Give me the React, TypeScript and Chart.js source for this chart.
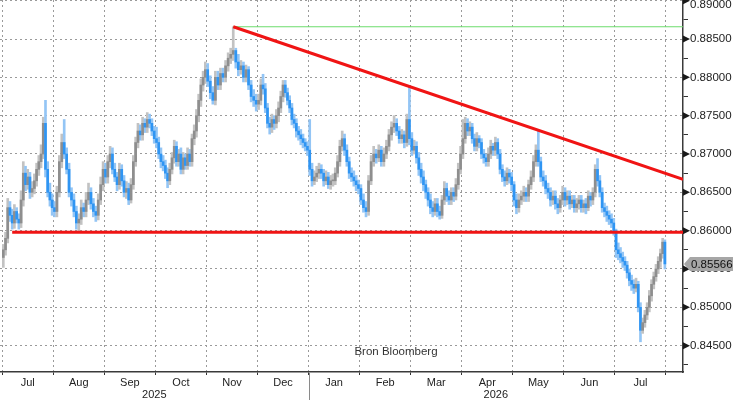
import React, { useEffect, useRef } from 'react';
import { Chart, registerables } from 'chart.js';

Chart.register(...registerables);

// ---------- labels ----------
const monthLabels = ['Jul', 'Aug', 'Sep', 'Oct', 'Nov', 'Dec', 'Jan', 'Feb', 'Mar', 'Apr', 'May', 'Jun', 'Jul'];
const yearLabels = ['2025', '2026'];
const yTickValues = [0.8425, 0.845, 0.8475, 0.85, 0.8525, 0.855, 0.8575, 0.86, 0.8625, 0.865, 0.8675, 0.87, 0.8725, 0.875, 0.8775, 0.88, 0.8825, 0.885, 0.8875, 0.89];
const sourceText = 'Bron Bloomberg';

// ---------- levels ----------
const firstOpen = 0.8565;
const supportLevel = 0.8598;
const trendEndLevel = 0.8667;
const lastPrice = 0.85566;
const supportStartBar = 4;

// ---------- daily closes / highs / lows per month ----------
const closeJul25 = [0.8575, 0.8590, 0.8630, 0.8620, 0.8610, 0.8625, 0.8615, 0.8610, 0.8640, 0.8675, 0.8660, 0.8670, 0.8650, 0.8655, 0.8665, 0.8680, 0.8690, 0.8700, 0.8740, 0.8680, 0.8650, 0.8640, 0.8630];
const highJul25 = [0.8582, 0.8598, 0.8642, 0.8638, 0.8628, 0.8634, 0.8630, 0.8622, 0.8652, 0.8690, 0.8684, 0.8680, 0.8676, 0.8664, 0.8674, 0.8688, 0.8698, 0.8712, 0.8748, 0.8770, 0.8690, 0.8662, 0.8648];
const lowJul25 = [0.8552, 0.8568, 0.8584, 0.8612, 0.8602, 0.8603, 0.8610, 0.8602, 0.8604, 0.8632, 0.8652, 0.8654, 0.8642, 0.8644, 0.8648, 0.8658, 0.8672, 0.8682, 0.8694, 0.8670, 0.8644, 0.8632, 0.8620];

const closeAug25 = [0.8625, 0.8650, 0.8690, 0.8715, 0.8700, 0.8680, 0.8650, 0.8640, 0.8625, 0.8610, 0.8615, 0.8630, 0.8625, 0.8640, 0.8650, 0.8635, 0.8625, 0.8620, 0.8640, 0.8660, 0.8680];
const highAug25 = [0.8638, 0.8658, 0.8698, 0.8726, 0.8745, 0.8708, 0.8688, 0.8656, 0.8648, 0.8632, 0.8622, 0.8640, 0.8636, 0.8650, 0.8662, 0.8656, 0.8642, 0.8632, 0.8648, 0.8670, 0.8690];
const lowAug25 = [0.8618, 0.8618, 0.8644, 0.8682, 0.8694, 0.8674, 0.8644, 0.8632, 0.8618, 0.8602, 0.8600, 0.8608, 0.8618, 0.8618, 0.8634, 0.8628, 0.8618, 0.8612, 0.8614, 0.8634, 0.8652];

const closeSep25 = [0.8670, 0.8690, 0.8700, 0.8680, 0.8670, 0.8660, 0.8680, 0.8665, 0.8650, 0.8655, 0.8640, 0.8660, 0.8690, 0.8715, 0.8730, 0.8725, 0.8740, 0.8735, 0.8745, 0.8740, 0.8730, 0.8720];
const highSep25 = [0.8688, 0.8698, 0.8710, 0.8708, 0.8688, 0.8676, 0.8688, 0.8686, 0.8672, 0.8664, 0.8662, 0.8668, 0.8698, 0.8722, 0.8740, 0.8738, 0.8748, 0.8746, 0.8754, 0.8752, 0.8746, 0.8736];
const lowSep25 = [0.8662, 0.8662, 0.8682, 0.8674, 0.8664, 0.8652, 0.8654, 0.8658, 0.8644, 0.8642, 0.8634, 0.8636, 0.8654, 0.8684, 0.8708, 0.8718, 0.8718, 0.8728, 0.8728, 0.8734, 0.8724, 0.8714];

const closeOct25 = [0.8715, 0.8700, 0.8690, 0.8685, 0.8675, 0.8665, 0.8680, 0.8695, 0.8710, 0.8690, 0.8700, 0.8680, 0.8695, 0.8685, 0.8700, 0.8690, 0.8720, 0.8730, 0.8750, 0.8770, 0.8790, 0.8800, 0.8810];
const highOct25 = [0.8735, 0.8722, 0.8708, 0.8698, 0.8692, 0.8682, 0.8688, 0.8702, 0.8718, 0.8716, 0.8706, 0.8708, 0.8702, 0.8700, 0.8708, 0.8706, 0.8726, 0.8738, 0.8758, 0.8778, 0.8798, 0.8808, 0.8820];
const lowOct25 = [0.8708, 0.8694, 0.8682, 0.8678, 0.8668, 0.8656, 0.8660, 0.8674, 0.8688, 0.8684, 0.8684, 0.8674, 0.8674, 0.8680, 0.8680, 0.8684, 0.8684, 0.8712, 0.8722, 0.8742, 0.8762, 0.8782, 0.8792];

const closeNov25 = [0.8795, 0.8780, 0.8770, 0.8800, 0.8790, 0.8805, 0.8800, 0.8815, 0.8825, 0.8830, 0.8835, 0.8820, 0.8810, 0.8815, 0.8800, 0.8810, 0.8790, 0.8775, 0.8770, 0.8765];
const highNov25 = [0.8818, 0.8802, 0.8788, 0.8808, 0.8808, 0.8812, 0.8812, 0.8822, 0.8832, 0.8838, 0.8866, 0.8838, 0.8830, 0.8822, 0.8820, 0.8816, 0.8814, 0.8796, 0.8784, 0.8778];
const lowNov25 = [0.8788, 0.8772, 0.8765, 0.8764, 0.8784, 0.8784, 0.8794, 0.8794, 0.8808, 0.8818, 0.8822, 0.8812, 0.8802, 0.8804, 0.8794, 0.8794, 0.8784, 0.8768, 0.8762, 0.8756];

const closeDec25 = [0.8770, 0.8790, 0.8785, 0.8760, 0.8740, 0.8735, 0.8745, 0.8740, 0.8750, 0.8760, 0.8775, 0.8790, 0.8780, 0.8770, 0.8760, 0.8745, 0.8740, 0.8730, 0.8725, 0.8720, 0.8715, 0.8710, 0.8705];
const highDec25 = [0.8778, 0.8798, 0.8804, 0.8792, 0.8766, 0.8748, 0.8752, 0.8750, 0.8758, 0.8768, 0.8782, 0.8796, 0.8796, 0.8786, 0.8776, 0.8766, 0.8752, 0.8746, 0.8736, 0.8732, 0.8726, 0.8720, 0.8716];
const lowDec25 = [0.8758, 0.8764, 0.8778, 0.8754, 0.8734, 0.8726, 0.8728, 0.8732, 0.8734, 0.8742, 0.8754, 0.8768, 0.8774, 0.8764, 0.8754, 0.8738, 0.8734, 0.8722, 0.8718, 0.8712, 0.8708, 0.8704, 0.8698];

const closeJan26 = [0.8680, 0.8665, 0.8670, 0.8675, 0.8680, 0.8675, 0.8665, 0.8670, 0.8660, 0.8665, 0.8665, 0.8675, 0.8690, 0.8710, 0.8720, 0.8705, 0.8690, 0.8675, 0.8670, 0.8665, 0.8660, 0.8655];
const highJan26 = [0.8745, 0.8688, 0.8678, 0.8684, 0.8688, 0.8686, 0.8680, 0.8678, 0.8676, 0.8672, 0.8674, 0.8682, 0.8698, 0.8718, 0.8730, 0.8726, 0.8712, 0.8696, 0.8682, 0.8678, 0.8672, 0.8666];
const lowJan26 = [0.8672, 0.8658, 0.8660, 0.8664, 0.8668, 0.8668, 0.8658, 0.8660, 0.8655, 0.8654, 0.8658, 0.8660, 0.8670, 0.8684, 0.8704, 0.8698, 0.8684, 0.8668, 0.8664, 0.8658, 0.8652, 0.8648];

const closeFeb26 = [0.8640, 0.8630, 0.8625, 0.8665, 0.8690, 0.8700, 0.8695, 0.8705, 0.8690, 0.8700, 0.8710, 0.8725, 0.8735, 0.8740, 0.8730, 0.8720, 0.8725, 0.8715, 0.8745, 0.8720];
const highFeb26 = [0.8660, 0.8648, 0.8638, 0.8672, 0.8698, 0.8710, 0.8706, 0.8712, 0.8710, 0.8708, 0.8718, 0.8732, 0.8742, 0.8750, 0.8746, 0.8736, 0.8732, 0.8730, 0.8752, 0.8788];
const lowFeb26 = [0.8634, 0.8624, 0.8618, 0.8620, 0.8660, 0.8684, 0.8688, 0.8690, 0.8684, 0.8684, 0.8694, 0.8704, 0.8718, 0.8728, 0.8724, 0.8714, 0.8714, 0.8708, 0.8710, 0.8712];

const closeMar26 = [0.8705, 0.8710, 0.8695, 0.8680, 0.8670, 0.8660, 0.8650, 0.8640, 0.8630, 0.8625, 0.8635, 0.8625, 0.8620, 0.8640, 0.8655, 0.8645, 0.8640, 0.8650, 0.8645, 0.8660, 0.8680, 0.8700];
const highMar26 = [0.8728, 0.8718, 0.8716, 0.8702, 0.8688, 0.8678, 0.8666, 0.8656, 0.8648, 0.8638, 0.8642, 0.8642, 0.8632, 0.8646, 0.8664, 0.8662, 0.8652, 0.8656, 0.8656, 0.8668, 0.8688, 0.8710];
const lowMar26 = [0.8698, 0.8700, 0.8688, 0.8672, 0.8662, 0.8652, 0.8642, 0.8632, 0.8622, 0.8618, 0.8620, 0.8618, 0.8615, 0.8616, 0.8634, 0.8638, 0.8634, 0.8634, 0.8638, 0.8640, 0.8654, 0.8674];

const closeApr26 = [0.8720, 0.8740, 0.8730, 0.8735, 0.8720, 0.8710, 0.8720, 0.8715, 0.8700, 0.8695, 0.8690, 0.8700, 0.8710, 0.8705, 0.8715, 0.8700, 0.8680, 0.8670, 0.8665, 0.8675, 0.8670, 0.8660];
const highApr26 = [0.8745, 0.8748, 0.8746, 0.8742, 0.8740, 0.8726, 0.8728, 0.8724, 0.8720, 0.8706, 0.8700, 0.8708, 0.8718, 0.8714, 0.8722, 0.8720, 0.8706, 0.8686, 0.8678, 0.8682, 0.8680, 0.8676];
const lowApr26 = [0.8694, 0.8714, 0.8724, 0.8724, 0.8714, 0.8704, 0.8704, 0.8708, 0.8694, 0.8688, 0.8684, 0.8684, 0.8694, 0.8698, 0.8698, 0.8694, 0.8674, 0.8664, 0.8658, 0.8660, 0.8662, 0.8652];

const closeMay26 = [0.8640, 0.8630, 0.8640, 0.8645, 0.8650, 0.8645, 0.8660, 0.8670, 0.8690, 0.8705, 0.8690, 0.8670, 0.8665, 0.8655, 0.8650, 0.8640, 0.8645, 0.8635, 0.8630, 0.8640, 0.8650];
const highMay26 = [0.8664, 0.8648, 0.8648, 0.8652, 0.8658, 0.8656, 0.8666, 0.8678, 0.8698, 0.8712, 0.8730, 0.8696, 0.8678, 0.8672, 0.8662, 0.8656, 0.8652, 0.8652, 0.8642, 0.8646, 0.8658];
const lowMay26 = [0.8632, 0.8622, 0.8624, 0.8634, 0.8638, 0.8638, 0.8638, 0.8654, 0.8664, 0.8684, 0.8684, 0.8664, 0.8658, 0.8648, 0.8642, 0.8632, 0.8634, 0.8628, 0.8622, 0.8624, 0.8634];

const closeJun26 = [0.8640, 0.8645, 0.8635, 0.8640, 0.8630, 0.8635, 0.8640, 0.8630, 0.8635, 0.8630, 0.8645, 0.8640, 0.8650, 0.8680, 0.8665, 0.8650, 0.8630, 0.8625, 0.8620, 0.8615, 0.8610, 0.8600];
const highJun26 = [0.8656, 0.8652, 0.8652, 0.8646, 0.8646, 0.8642, 0.8646, 0.8646, 0.8640, 0.8642, 0.8652, 0.8650, 0.8656, 0.8686, 0.8694, 0.8672, 0.8656, 0.8636, 0.8632, 0.8626, 0.8622, 0.8616];
const lowJun26 = [0.8632, 0.8634, 0.8628, 0.8630, 0.8624, 0.8624, 0.8628, 0.8624, 0.8624, 0.8622, 0.8626, 0.8632, 0.8634, 0.8644, 0.8658, 0.8644, 0.8624, 0.8618, 0.8612, 0.8608, 0.8604, 0.8594];

const closeJul26 = [0.8575, 0.8570, 0.8565, 0.8560, 0.8555, 0.8545, 0.8535, 0.8530, 0.8525, 0.8530, 0.8500, 0.8470, 0.8480, 0.8490, 0.8500, 0.8515, 0.8530, 0.8540, 0.8550, 0.8560, 0.8570, 0.8585, 0.85566];
const highJul26 = [0.8602, 0.8584, 0.8578, 0.8572, 0.8566, 0.8560, 0.8550, 0.8542, 0.8536, 0.8538, 0.8534, 0.8506, 0.8486, 0.8496, 0.8506, 0.8522, 0.8536, 0.8546, 0.8556, 0.8566, 0.8576, 0.8590, 0.8588];
const lowJul26 = [0.8565, 0.8562, 0.8558, 0.8552, 0.8548, 0.8538, 0.8528, 0.8522, 0.8518, 0.8520, 0.8494, 0.8455, 0.8466, 0.8474, 0.8484, 0.8494, 0.8508, 0.8524, 0.8534, 0.8544, 0.8552, 0.8564, 0.8550];

const monthCloses = [closeJul25, closeAug25, closeSep25, closeOct25, closeNov25, closeDec25, closeJan26, closeFeb26, closeMar26, closeApr26, closeMay26, closeJun26, closeJul26];
const monthHighs = [highJul25, highAug25, highSep25, highOct25, highNov25, highDec25, highJan26, highFeb26, highMar26, highApr26, highMay26, highJun26, highJul26];
const monthLows = [lowJul25, lowAug25, lowSep25, lowOct25, lowNov25, lowDec25, lowJan26, lowFeb26, lowMar26, lowApr26, lowMay26, lowJun26, lowJul26];

// ---------- styling ----------
const FONT = "'Liberation Sans', Arial, sans-serif";
// this chart shows falling days in blue and rising days in grey
const DOWN_BODY = '#2f95f3';
const DOWN_WICK = '#93c5f5';
const UP_BODY = '#8e8e8e';
const UP_WICK = '#c2c2c2';
const RED = '#f01414';
const GREEN = '#6cdc6c';
const GRID = '#9a9a9a';
const X_MIN = -0.043;
const X_MAX = 13.333;
const Y_MIN = 0.84156;
const Y_MAX = 0.89009;

const isMajor = (v: number) => Math.round(v * 10000) % 50 === 0;
const isBoundary = (v: number) => Math.abs(v - Math.round(v)) < 0.01;

export default function App() {
  const ref = useRef<HTMLCanvasElement | null>(null);

  useEffect(() => {
    document.body.style.margin = '0';
    if (!ref.current) return;

    type Bar = { x: number; o: number; h: number; l: number; c: number };
    const bars: Bar[] = [];
    let prev = firstOpen;
    monthCloses.forEach((cl, m) => {
      const n = cl.length;
      cl.forEach((c, i) => {
        const o = prev;
        const hi = monthHighs[m][i] ?? Math.max(o, c);
        const lo = monthLows[m][i] ?? Math.min(o, c);
        bars.push({ x: m + (i + 0.5) / n, o, c, h: Math.max(hi, o, c), l: Math.min(lo, o, c) });
        prev = c;
      });
    });

    let peak = bars[0];
    bars.forEach((b) => { if (b.h > peak.h) peak = b; });

    const monthTicks: number[] = [];
    for (let m = 0; m <= monthLabels.length; m++) monthTicks.push(m);
    for (let m = 0; m < monthLabels.length; m++) monthTicks.push(m + 0.5);
    monthTicks.sort((a, b) => a - b);

    const overlay = {
      id: 'overlay',
      afterDraw(chart: any) {
        const { ctx, chartArea } = chart;
        const xs = chart.scales.x;
        const ys = chart.scales.y;
        const r = chartArea.right;
        ctx.save();
        // arrow markers at major y ticks
        ctx.fillStyle = '#1a1a1a';
        yTickValues.filter(isMajor).forEach((v) => {
          const y = ys.getPixelForValue(v);
          ctx.beginPath();
          ctx.moveTo(r, y - 3.5);
          ctx.lineTo(r + 7, y);
          ctx.lineTo(r, y + 3.5);
          ctx.closePath();
          ctx.fill();
        });
        // last price tag
        const py = ys.getPixelForValue(lastPrice);
        ctx.fillStyle = '#a6a6a6';
        ctx.beginPath();
        ctx.moveTo(r + 1, py);
        ctx.lineTo(r + 7, py - 7);
        ctx.lineTo(733, py - 7);
        ctx.lineTo(733, py + 7);
        ctx.lineTo(r + 7, py + 7);
        ctx.closePath();
        ctx.fill();
        ctx.fillStyle = '#111';
        ctx.font = `11.5px ${FONT}`;
        ctx.textAlign = 'left';
        ctx.textBaseline = 'middle';
        ctx.fillText(lastPrice.toFixed(5), r + 8, py + 0.5);
        // year separator and year labels
        const jan = xs.getPixelForValue(6);
        ctx.strokeStyle = '#8a8a8a';
        ctx.lineWidth = 1;
        ctx.beginPath();
        ctx.moveTo(Math.round(jan) + 0.5, chartArea.bottom + 1);
        ctx.lineTo(Math.round(jan) + 0.5, chart.height);
        ctx.stroke();
        ctx.fillStyle = '#222';
        ctx.font = `11px ${FONT}`;
        ctx.textAlign = 'center';
        ctx.fillText(yearLabels[0], (chartArea.left + jan) / 2, 395);
        ctx.fillText(yearLabels[1], (jan + r) / 2, 395);
        // source
        ctx.fillStyle = '#333';
        ctx.font = `11.5px ${FONT}`;
        ctx.fillText(sourceText, 396, 352);
        ctx.restore();
      },
    };

    const chart = new Chart(ref.current, {
      type: 'bar',
      data: {
        datasets: [
          {
            type: 'line',
            data: [{ x: bars[supportStartBar].x, y: supportLevel }, { x: X_MAX, y: supportLevel }],
            borderColor: RED,
            borderWidth: 3,
            pointRadius: 0,
            order: 1,
          } as any,
          {
            type: 'line',
            data: [{ x: peak.x, y: peak.h }, { x: X_MAX, y: trendEndLevel }],
            borderColor: RED,
            borderWidth: 3,
            pointRadius: 0,
            order: 1,
          } as any,
          {
            type: 'line',
            data: [{ x: peak.x, y: peak.h }, { x: X_MAX, y: peak.h }],
            borderColor: GREEN,
            borderWidth: 1,
            pointRadius: 0,
            order: 1,
          } as any,
          {
            type: 'bar',
            data: bars.map((b) => ({ x: b.x, y: [b.o, b.c] })),
            backgroundColor: bars.map((b) => (b.c >= b.o ? UP_BODY : DOWN_BODY)),
            barThickness: 2,
            minBarLength: 1,
            grouped: false,
            borderWidth: 0,
            order: 2,
          } as any,
          {
            type: 'bar',
            data: bars.map((b) => ({ x: b.x, y: [b.l, b.h] })),
            backgroundColor: bars.map((b) => (b.c >= b.o ? UP_WICK : DOWN_WICK)),
            barThickness: 2,
            grouped: false,
            borderWidth: 0,
            order: 3,
          } as any,
        ],
      },
      options: {
        responsive: false,
        animation: false,
        devicePixelRatio: 1,
        layout: { padding: 0 },
        font: { family: FONT },
        plugins: { legend: { display: false }, tooltip: { enabled: false } },
        scales: {
          x: {
            type: 'linear',
            min: X_MIN,
            max: X_MAX,
            offset: false,
            afterBuildTicks: (s: any) => { s.ticks = monthTicks.map((v) => ({ value: v })); },
            afterFit: (s: any) => { s.height = 28; s.paddingLeft = 0; s.paddingRight = 0; },
            grid: {
              offset: false,
              color: (c: any) => (c.tick && isBoundary(c.tick.value) ? GRID : 'transparent'),
              tickColor: (c: any) => (c.tick && isBoundary(c.tick.value) ? '#333' : 'transparent'),
              tickLength: 3,
              lineWidth: 1,
            },
            border: { display: true, color: '#3a3a3a', width: 1.5, dash: [2, 3] },
            ticks: {
              autoSkip: false,
              maxRotation: 0,
              padding: 1,
              color: '#222',
              font: { family: FONT, size: 11 },
              callback: (v: any) => (isBoundary(Number(v)) ? '' : monthLabels[Math.floor(Number(v))]),
            },
          },
          y: {
            type: 'linear',
            position: 'right',
            min: Y_MIN,
            max: Y_MAX,
            afterBuildTicks: (s: any) => { s.ticks = yTickValues.map((v) => ({ value: v })); },
            afterFit: (s: any) => { s.width = 53; s.paddingTop = 0; s.paddingBottom = 0; },
            grid: {
              color: (c: any) => (c.tick && isMajor(c.tick.value) ? GRID : 'transparent'),
              tickColor: (c: any) => (c.tick && isMajor(c.tick.value) ? 'transparent' : '#333'),
              tickLength: 5,
              lineWidth: 1,
            },
            border: { display: true, color: '#3a3a3a', width: 1.5, dash: [2, 3] },
            ticks: {
              autoSkip: false,
              padding: 2,
              color: '#222',
              font: { family: FONT, size: 11.5, lineHeight: 0.8 },
              callback: (v: any) => {
                const n = Number(v);
                if (!isMajor(n)) return '';
                const t = n.toFixed(5);
                return n >= yTickValues[yTickValues.length - 1] - 1e-9 ? ['', t] : t;
              },
            },
          },
        },
      } as any,
      plugins: [overlay],
    });

    return () => chart.destroy();
  }, []);

  return <canvas ref={ref} width={736} height={400} style={{ display: 'block' }} />;
}
